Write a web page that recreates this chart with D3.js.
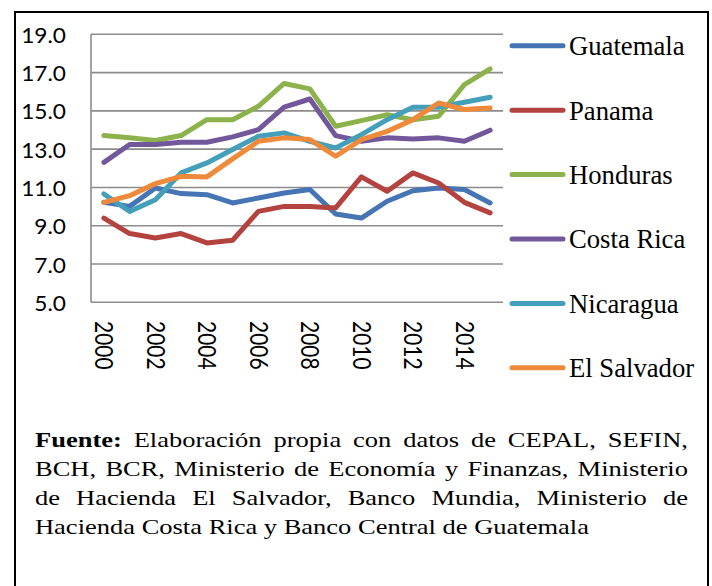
<!DOCTYPE html>
<html>
<head>
<meta charset="utf-8">
<script src="https://cdn.jsdelivr.net/npm/d3@7"></script>
<style>
  body { margin: 0; background: #fff; }
  svg { display: block; }
</style>
</head>
<body>
<svg id="chart" width="712" height="586"></svg>
<script>
// datos por pais, 2000-2015
const years = [2000, 2001, 2002, 2003, 2004, 2005, 2006, 2007, 2008, 2009, 2010, 2011, 2012, 2013, 2014, 2015];
const guatemala = [10.22, 10.01, 10.97, 10.68, 10.62, 10.19, 10.45, 10.71, 10.89, 9.61, 9.40, 10.28, 10.83, 10.97, 10.89, 10.19];
const panama = [9.40, 8.59, 8.36, 8.59, 8.10, 8.24, 9.75, 10.01, 10.01, 9.93, 11.55, 10.80, 11.76, 11.23, 10.22, 9.67];
const honduras = [13.71, 13.59, 13.45, 13.71, 14.54, 14.54, 15.24, 16.43, 16.15, 14.20, 14.49, 14.80, 14.54, 14.72, 16.37, 17.19];
const costaRica = [12.31, 13.24, 13.24, 13.36, 13.36, 13.64, 14.02, 15.19, 15.62, 13.71, 13.41, 13.59, 13.53, 13.59, 13.41, 13.99];
const nicaragua = [10.66, 9.75, 10.36, 11.76, 12.28, 12.98, 13.67, 13.85, 13.41, 13.06, 13.76, 14.54, 15.19, 15.19, 15.45, 15.71];
const elSalvador = [10.22, 10.57, 11.20, 11.58, 11.55, 12.49, 13.41, 13.59, 13.50, 12.63, 13.50, 13.93, 14.54, 15.41, 15.07, 15.15];

const seriesNames = ["Guatemala", "Panama", "Honduras", "Costa Rica", "Nicaragua", "El Salvador"];
const seriesValues = [guatemala, panama, honduras, costaRica, nicaragua, elSalvador];
const seriesColors = ["#4575b4", "#b4433f", "#8cb24c", "#72589a", "#44a0ba", "#ee8a3a"];

const yTicks = [5, 7, 9, 11, 13, 15, 17, 19];
const xTickLabels = [2000, 2002, 2004, 2006, 2008, 2010, 2012, 2014];

const captionLines = [
    ["Fuente:", "Elaboración", "propia", "con", "datos", "de", "CEPAL,", "SEFIN,"],
    ["BCH,", "BCR,", "Ministerio", "de", "Economía", "y", "Finanzas,", "Ministerio"],
    ["de", "Hacienda", "El", "Salvador,", "Banco", "Mundia,", "Ministerio", "de"],
    ["Hacienda", "Costa", "Rica", "y", "Banco", "Central", "de", "Guatemala"]
];

const serif = "'Liberation Serif', 'Times New Roman', serif";
const sans = "Lato, 'Open Sans', sans-serif";

const svg = d3.select("#chart");

// marco exterior
svg.append("rect")
    .attr("x", 15).attr("y", 12)
    .attr("width", 693).attr("height", 590)
    .attr("fill", "none")
    .attr("stroke", "#000")
    .attr("stroke-width", 2);

const x = d3.scalePoint().domain(years).range([91, 503]).padding(0.5);
const y = d3.scaleLinear().domain([5, 19]).range([302.3, 34.3]);

// rejilla
svg.append("g")
    .selectAll("line")
    .data(yTicks)
    .join("line")
    .attr("x1", 91).attr("x2", 503)
    .attr("y1", d => y(d)).attr("y2", d => y(d))
    .attr("stroke", "#8c8c8c")
    .attr("stroke-width", 1.6);

svg.append("line")
    .attr("x1", 91).attr("x2", 91)
    .attr("y1", y(19)).attr("y2", y(5))
    .attr("stroke", "#8c8c8c")
    .attr("stroke-width", 1.6);

// etiquetas eje y
svg.append("g")
    .selectAll("text")
    .data(yTicks)
    .join("text")
    .attr("transform", d => `translate(66,${y(d) + 1}) scale(1.08,1)`)
    .attr("text-anchor", "end")
    .attr("dy", "0.36em")
    .attr("font-family", sans)
    .attr("font-size", 21)
    .attr("fill", "#000")
    .text(d => d.toFixed(1));

// etiquetas eje x
svg.append("g")
    .selectAll("text")
    .data(xTickLabels)
    .join("text")
    .attr("transform", d => `translate(${x(d)},321) scale(1.15,1) rotate(90)`)
    .attr("text-anchor", "start")
    .attr("dy", "0.36em")
    .attr("font-family", sans)
    .attr("font-size", 21)
    .attr("fill", "#000")
    .text(d => d);

// lineas
const line = d3.line()
    .x((d, i) => x(years[i]))
    .y(d => y(d));

svg.append("g")
    .selectAll("path")
    .data(seriesValues)
    .join("path")
    .attr("d", line)
    .attr("fill", "none")
    .attr("stroke", (d, i) => seriesColors[i])
    .attr("stroke-width", 5)
    .attr("stroke-linejoin", "round")
    .attr("stroke-linecap", "round");

// leyenda
const legend = svg.append("g")
    .selectAll("g")
    .data(seriesNames)
    .join("g")
    .attr("transform", (d, i) => `translate(0,${45.8 + i * 64.4})`);

legend.append("line")
    .attr("x1", 512).attr("x2", 563)
    .attr("stroke", (d, i) => seriesColors[i])
    .attr("stroke-width", 5)
    .attr("stroke-linecap", "round");

legend.append("text")
    .attr("transform", "translate(569,0) scale(0.97,1)")
    .attr("dy", "0.34em")
    .attr("font-family", serif)
    .attr("font-size", 27.5)
    .attr("fill", "#000")
    .text(d => d);

// fuente (texto justificado)
const cap = svg.append("g");
const capLeft = 35, capRight = 688, lastRight = 589;
const baselines = [447.3, 476.2, 505, 533.8];
const capSize = 21;

function wordWidth(w, bold) {
    const t = cap.append("text")
        .attr("font-family", serif)
        .attr("font-size", capSize)
        .attr("font-weight", bold ? "bold" : "normal")
        .text(w);
    const len = t.node().getComputedTextLength();
    t.remove();
    return len;
}

const spaceW = wordWidth("a a") - wordWidth("aa");
const lastNatural = d3.sum(captionLines[3], w => wordWidth(w, false)) + spaceW * (captionLines[3].length - 1);
const sx = (lastRight - capLeft) / lastNatural;

captionLines.forEach((words, li) => {
    const widths = words.map((w, i) => wordWidth(w, li === 0 && i === 0));
    const total = d3.sum(widths);
    const gap = li === 3 ? spaceW : ((capRight - capLeft) / sx - total) / (words.length - 1);
    const g = cap.append("g")
        .attr("transform", `translate(${capLeft},${baselines[li]}) scale(${sx},1)`);
    let pos = 0;
    words.forEach((w, i) => {
        g.append("text")
            .attr("x", pos)
            .attr("font-family", serif)
            .attr("font-size", capSize)
            .attr("font-weight", li === 0 && i === 0 ? "bold" : "normal")
            .attr("fill", "#000")
            .text(w);
        pos += widths[i] + gap;
    });
});
</script>
</body>
</html>
